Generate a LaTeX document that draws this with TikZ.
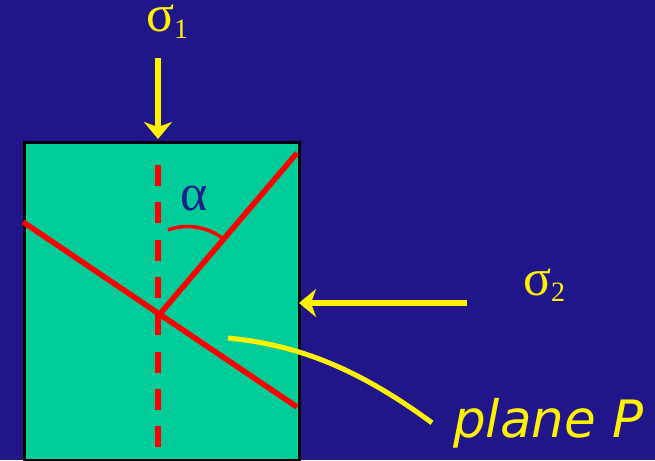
\documentclass[tikz,border=0pt]{standalone}
\usepackage{fontspec}
\setmainfont{Liberation Serif}
\newfontfamily\handfont{DejaVu Sans}
\usetikzlibrary{arrows.meta}
\definecolor{slideblue}{RGB}{32,22,138}
\definecolor{rockgreen}{RGB}{0,204,153}
\definecolor{alphablue}{RGB}{30,30,140}
\newcommand{\sigsub}[1]{σ\raisebox{-6pt}{\fontsize{28}{28}\selectfont #1}}

\begin{document}
\begin{tikzpicture}[x=1pt,y=-1pt,
  load/.style={draw=yellow,line width=6pt,-{Stealth[length=17pt,width=28pt,inset=5pt]}},
  fault/.style={draw=red,line width=5.5pt},
  lbl/.style={text=yellow,inner sep=0pt,anchor=base west,text height=22pt,
    font=\fontsize{52}{52}\selectfont}]
  % Background
  \fill[slideblue] (0,0) rectangle (655,460);
  \useasboundingbox (0,0) rectangle (655,460);
  % Rock sample
  \node[draw=black,fill=rockgreen,line width=2.5pt,minimum width=275pt,minimum height=318pt,
    inner sep=0pt,anchor=north west] (block) at (23,141) {};
  % Axis of sigma1 and the planes
  \coordinate (axtop) at (158,165);
  \coordinate (axbot) at (158,448);
  \coordinate (centre) at (159,315);
  \coordinate (pleft) at (23,222);
  \coordinate (pright) at (297,407);
  \coordinate (conj) at (297,153);
  \draw[fault,dash pattern=on 21pt off 16.3pt] (axtop) -- (axbot);
  \draw[fault] (pleft) -- (pright);
  \draw[fault] (centre) -- (conj);
  % Angle
  \coordinate (arcA) at (168,230);
  \coordinate (arcB) at (222,238);
  \draw[red,line width=3.5pt] (arcA) .. controls (186,223) and (208,227) .. (arcB);
  \node[lbl,text=alphablue] (alpha) at (180,210) {α};
  % Loads
  \coordinate (s1start) at (158,58);
  \coordinate (s1end) at (158,139);
  \draw[load] (s1start) -- (s1end);
  \node[lbl] (sig1) at (146,32) {\sigsub{1}};
  \coordinate (s2start) at (467,303);
  \coordinate (s2end) at (299,303);
  \draw[load] (s2start) -- (s2end);
  \node[lbl] (sig2) at (523,295) {\sigsub{2}};
  % Plane label
  \node[lbl,text height=,font=\handfont\itshape\fontsize{51.5}{51.5}\selectfont] (plane) at (453,437) {plane P};
  \coordinate (pstart) at (228,338);
  \draw[yellow,line width=5pt] (pstart) .. controls (300,345) and (360,370) .. ([xshift=-21pt]plane.west);
\end{tikzpicture}
\end{document}
